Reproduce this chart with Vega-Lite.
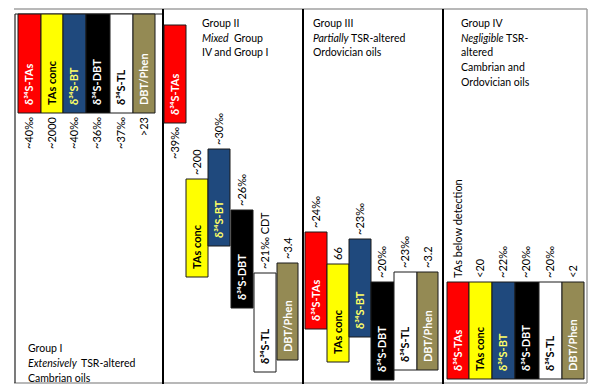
{
  "$schema": "https://vega.github.io/schema/vega-lite/v6.json",
  "width": 600,
  "height": 390,
  "padding": 0,
  "autosize": {"type": "fit", "contains": "padding"},
  "background": "white",
  "config": {"view": {"stroke": null}, "font": "Lato"},
  "datasets": {
    "bars": [
      {"group": "I", "series": "TAs", "label": "δ³⁴S-TAs", "value": "~40‰", "pos": "below", "x0": 18, "x1": 41, "y0": 14, "y1": 113},
      {"group": "I", "series": "conc", "label": "TAs conc", "value": "~2000", "pos": "below", "x0": 41, "x1": 63, "y0": 14, "y1": 113},
      {"group": "I", "series": "BT", "label": "δ³⁴S-BT", "value": "~40‰", "pos": "below", "x0": 63, "x1": 86, "y0": 14, "y1": 113},
      {"group": "I", "series": "DBT", "label": "δ³⁴S-DBT", "value": "~36‰", "pos": "below", "x0": 86, "x1": 110, "y0": 14, "y1": 113},
      {"group": "I", "series": "TL", "label": "δ³⁴S-TL", "value": "~37‰", "pos": "below", "x0": 110, "x1": 133, "y0": 14, "y1": 113},
      {"group": "I", "series": "Phen", "label": "DBT/Phen", "value": ">23", "pos": "below", "x0": 133, "x1": 155, "y0": 14, "y1": 113},
      {"group": "II", "series": "TAs", "label": "δ³⁴S-TAs", "value": "~39‰", "pos": "below", "x0": 164, "x1": 186, "y0": 25, "y1": 123},
      {"group": "II", "series": "conc", "label": "TAs conc", "value": "~200", "pos": "above", "x0": 186, "x1": 208, "y0": 179, "y1": 277},
      {"group": "II", "series": "BT", "label": "δ³⁴S-BT", "value": "~30‰", "pos": "above", "x0": 208, "x1": 230, "y0": 149, "y1": 246},
      {"group": "II", "series": "DBT", "label": "δ³⁴S-DBT", "value": "~26‰", "pos": "above", "x0": 231, "x1": 253, "y0": 210, "y1": 308},
      {"group": "II", "series": "TL", "label": "δ³⁴S-TL", "value": "~21‰ CDT", "pos": "above", "x0": 254, "x1": 276, "y0": 273, "y1": 372},
      {"group": "II", "series": "Phen", "label": "DBT/Phen", "value": "~3.4", "pos": "above", "x0": 277, "x1": 298, "y0": 263, "y1": 360},
      {"group": "III", "series": "TAs", "label": "δ³⁴S-TAs", "value": "~24‰", "pos": "above", "x0": 305, "x1": 327, "y0": 232, "y1": 329},
      {"group": "III", "series": "conc", "label": "TAs conc", "value": "66", "pos": "above", "x0": 327, "x1": 349, "y0": 264, "y1": 362},
      {"group": "III", "series": "BT", "label": "δ³⁴S-BT", "value": "~23‰", "pos": "above", "x0": 349, "x1": 371, "y0": 239, "y1": 337},
      {"group": "III", "series": "DBT", "label": "δ³⁴S-DBT", "value": "~20‰", "pos": "above", "x0": 371, "x1": 394, "y0": 282, "y1": 380},
      {"group": "III", "series": "TL", "label": "δ³⁴S-TL", "value": "~23‰", "pos": "above", "x0": 394, "x1": 417, "y0": 272, "y1": 370},
      {"group": "III", "series": "Phen", "label": "DBT/Phen", "value": "~3.2", "pos": "above", "x0": 417, "x1": 438, "y0": 272, "y1": 370},
      {"group": "IV", "series": "TAs", "label": "δ³⁴S-TAs", "value": "TAs below detection", "pos": "above", "x0": 447, "x1": 469, "y0": 282, "y1": 379},
      {"group": "IV", "series": "conc", "label": "TAs conc", "value": "<20", "pos": "above", "x0": 469, "x1": 492, "y0": 282, "y1": 379},
      {"group": "IV", "series": "BT", "label": "δ³⁴S-BT", "value": "~22‰", "pos": "above", "x0": 492, "x1": 515, "y0": 282, "y1": 379},
      {"group": "IV", "series": "DBT", "label": "δ³⁴S-DBT", "value": "~20‰", "pos": "above", "x0": 515, "x1": 539, "y0": 282, "y1": 379},
      {"group": "IV", "series": "TL", "label": "δ³⁴S-TL", "value": "~20‰", "pos": "above", "x0": 539, "x1": 562, "y0": 282, "y1": 379},
      {"group": "IV", "series": "Phen", "label": "DBT/Phen", "value": "<2", "pos": "above", "x0": 562, "x1": 584, "y0": 282, "y1": 379}
    ],
    "lines": [
      {"kind": "frame", "x0": 14, "x1": 587, "y0": 9, "y1": 9},
      {"kind": "frame", "x0": 587, "x1": 587, "y0": 9, "y1": 383},
      {"kind": "frame", "x0": 14, "x1": 587, "y0": 383, "y1": 383},
      {"kind": "box", "x0": 15, "x1": 163, "y0": 14, "y1": 14},
      {"kind": "box", "x0": 15, "x1": 15, "y0": 14, "y1": 383},
      {"kind": "divider", "x0": 163, "x1": 163, "y0": 9, "y1": 384},
      {"kind": "divider", "x0": 303, "x1": 303, "y0": 9, "y1": 384},
      {"kind": "divider", "x0": 443, "x1": 443, "y0": 9, "y1": 384}
    ],
    "notes": [
      {"text": "Group I", "x": 28, "y": 349, "style": "normal"},
      {"text": "Extensively", "x": 28, "y": 364, "style": "italic"},
      {"text": "TSR-altered", "x": 81, "y": 364, "style": "normal"},
      {"text": "Cambrian oils", "x": 28, "y": 379, "style": "normal"},
      {"text": "Group II", "x": 202, "y": 24, "style": "normal"},
      {"text": "Mixed", "x": 202, "y": 39, "style": "italic"},
      {"text": "Group", "x": 234, "y": 39, "style": "normal"},
      {"text": "IV and Group I", "x": 202, "y": 53, "style": "normal"},
      {"text": "Group III", "x": 313, "y": 24, "style": "normal"},
      {"text": "Partially", "x": 313, "y": 39, "style": "italic"},
      {"text": "TSR-altered", "x": 351, "y": 39, "style": "normal"},
      {"text": "Ordovician oils", "x": 313, "y": 53, "style": "normal"},
      {"text": "Group IV", "x": 461, "y": 24, "style": "normal"},
      {"text": "Negligible", "x": 461, "y": 39, "style": "italic"},
      {"text": "TSR-", "x": 506, "y": 39, "style": "normal"},
      {"text": "altered", "x": 461, "y": 53, "style": "normal"},
      {"text": "Cambrian and", "x": 461, "y": 68, "style": "normal"},
      {"text": "Ordovician oils", "x": 461, "y": 83, "style": "normal"}
    ]
  },
  "layer": [
    {
      "data": {"name": "lines"},
      "transform": [{"filter": "datum.kind == 'frame'"}],
      "mark": {"type": "rule", "color": "#a0a0a0", "strokeWidth": 1.5},
      "encoding": {
        "x": {"field": "x0", "type": "quantitative", "scale": {"domain": [0, 600], "nice": false, "zero": false}, "axis": null},
        "x2": {"field": "x1"},
        "y": {"field": "y0", "type": "quantitative", "scale": {"domain": [0, 390], "nice": false, "zero": false, "reverse": true}, "axis": null},
        "y2": {"field": "y1"}
      }
    },
    {
      "data": {"name": "lines"},
      "transform": [{"filter": "datum.kind == 'box'"}],
      "mark": {"type": "rule", "color": "#222222", "strokeWidth": 1.2},
      "encoding": {
        "x": {"field": "x0", "type": "quantitative", "scale": {"domain": [0, 600], "nice": false, "zero": false}, "axis": null},
        "x2": {"field": "x1"},
        "y": {"field": "y0", "type": "quantitative", "scale": {"domain": [0, 390], "nice": false, "zero": false, "reverse": true}, "axis": null},
        "y2": {"field": "y1"}
      }
    },
    {
      "data": {"name": "lines"},
      "transform": [{"filter": "datum.kind == 'divider'"}],
      "mark": {"type": "rule", "color": "#000000", "strokeWidth": 2},
      "encoding": {
        "x": {"field": "x0", "type": "quantitative", "scale": {"domain": [0, 600], "nice": false, "zero": false}, "axis": null},
        "x2": {"field": "x1"},
        "y": {"field": "y0", "type": "quantitative", "scale": {"domain": [0, 390], "nice": false, "zero": false, "reverse": true}, "axis": null},
        "y2": {"field": "y1"}
      }
    },
    {
      "data": {"name": "bars"},
      "mark": {"type": "rect", "stroke": "#1a1a1a", "strokeWidth": 1},
      "encoding": {
        "x": {"field": "x0", "type": "quantitative", "scale": {"domain": [0, 600], "nice": false, "zero": false}, "axis": null},
        "x2": {"field": "x1"},
        "y": {"field": "y0", "type": "quantitative", "scale": {"domain": [0, 390], "nice": false, "zero": false, "reverse": true}, "axis": null},
        "y2": {"field": "y1"},
        "color": {"field": "series", "type": "nominal", "legend": null, "scale": {"domain": ["TAs", "conc", "BT", "DBT", "TL", "Phen"], "range": ["#ff0000", "#ffff00", "#1f497d", "#000000", "#ffffff", "#948a54"]}}
      }
    },
    {
      "data": {"name": "bars"},
      "mark": {"type": "text", "angle": 270, "align": "left", "baseline": "middle", "dx": 8, "dy": 11.5, "fontSize": 11, "fontWeight": "bold"},
      "encoding": {
        "x": {"field": "x0", "type": "quantitative", "scale": {"domain": [0, 600], "nice": false, "zero": false}, "axis": null},
        "y": {"field": "y1", "type": "quantitative", "scale": {"domain": [0, 390], "nice": false, "zero": false, "reverse": true}, "axis": null},
        "text": {"field": "label"},
        "color": {"field": "series", "type": "nominal", "legend": null, "scale": {"domain": ["TAs", "conc", "BT", "DBT", "TL", "Phen"], "range": ["#ffffff", "#000000", "#ffff66", "#ffffff", "#000000", "#ffffff"]}}
      }
    },
    {
      "data": {"name": "bars"},
      "transform": [{"filter": "datum.pos == 'above'"}],
      "mark": {"type": "text", "angle": 270, "align": "left", "baseline": "middle", "dx": 4, "dy": 11.5, "fontSize": 11, "color": "#000000"},
      "encoding": {
        "x": {"field": "x0", "type": "quantitative", "scale": {"domain": [0, 600], "nice": false, "zero": false}, "axis": null},
        "y": {"field": "y0", "type": "quantitative", "scale": {"domain": [0, 390], "nice": false, "zero": false, "reverse": true}, "axis": null},
        "text": {"field": "value"}
      }
    },
    {
      "data": {"name": "bars"},
      "transform": [{"filter": "datum.pos == 'below'"}],
      "mark": {"type": "text", "angle": 270, "align": "right", "baseline": "middle", "dx": -4, "dy": 11.5, "fontSize": 11, "color": "#000000"},
      "encoding": {
        "x": {"field": "x0", "type": "quantitative", "scale": {"domain": [0, 600], "nice": false, "zero": false}, "axis": null},
        "y": {"field": "y1", "type": "quantitative", "scale": {"domain": [0, 390], "nice": false, "zero": false, "reverse": true}, "axis": null},
        "text": {"field": "value"}
      }
    },
    {
      "data": {"name": "notes"},
      "transform": [{"filter": "datum.style == 'normal'"}],
      "mark": {"type": "text", "align": "left", "baseline": "middle", "fontSize": 10.5, "color": "#000000"},
      "encoding": {
        "x": {"field": "x", "type": "quantitative", "scale": {"domain": [0, 600], "nice": false, "zero": false}, "axis": null},
        "y": {"field": "y", "type": "quantitative", "scale": {"domain": [0, 390], "nice": false, "zero": false, "reverse": true}, "axis": null},
        "text": {"field": "text"}
      }
    },
    {
      "data": {"name": "notes"},
      "transform": [{"filter": "datum.style == 'italic'"}],
      "mark": {"type": "text", "align": "left", "baseline": "middle", "fontSize": 10.5, "fontStyle": "italic", "color": "#000000"},
      "encoding": {
        "x": {"field": "x", "type": "quantitative", "scale": {"domain": [0, 600], "nice": false, "zero": false}, "axis": null},
        "y": {"field": "y", "type": "quantitative", "scale": {"domain": [0, 390], "nice": false, "zero": false, "reverse": true}, "axis": null},
        "text": {"field": "text"}
      }
    }
  ],
  "resolve": {"scale": {"color": "independent"}}
}
